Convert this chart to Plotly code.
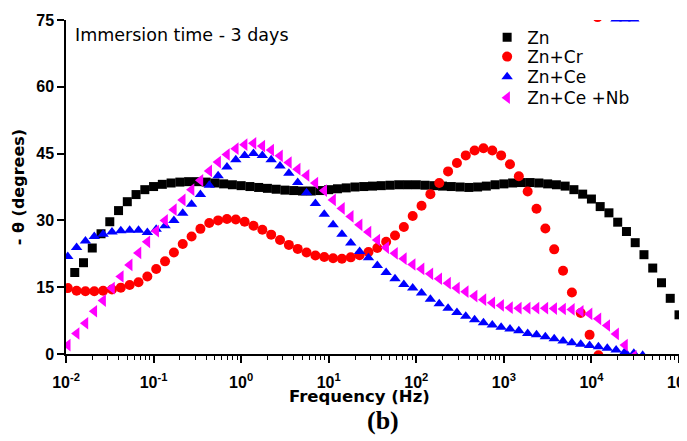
import plotly.graph_objects as go

# ---------------- data ----------------
# log10(frequency / Hz) of the Zn series
zn_logf = [-1.9, -1.8, -1.7, -1.6, -1.5, -1.4, -1.3, -1.2, -1.1, -1.0,
           -0.9, -0.8, -0.7, -0.6, -0.5, -0.4, -0.3, -0.2, -0.1, 0.0,
           0.1, 0.2, 0.3, 0.4, 0.5, 0.6, 0.7, 0.8, 0.9, 1.0,
           1.1, 1.2, 1.3, 1.4, 1.5, 1.6, 1.7, 1.8, 1.9, 2.0,
           2.1, 2.2, 2.3, 2.4, 2.5, 2.6, 2.7, 2.8, 2.9, 3.0,
           3.1, 3.2, 3.3, 3.4, 3.5, 3.6, 3.7, 3.8, 3.9, 4.0,
           4.1, 4.2, 4.3, 4.4, 4.5, 4.6, 4.7, 4.8, 4.9, 5.0]
zn_theta = [18.3, 20.5, 23.8, 27.0, 29.7, 32.2, 34.2, 35.8, 36.9, 37.6,
            38.1, 38.4, 38.6, 38.7, 38.7, 38.6, 38.4, 38.2, 38.0, 37.8,
            37.6, 37.4, 37.2, 37.0, 36.8, 36.7, 36.6, 36.6, 36.7, 36.9,
            37.1, 37.3, 37.5, 37.6, 37.7, 37.8, 37.9, 38.0, 38.0, 38.0,
            37.9, 37.8, 37.7, 37.6, 37.5, 37.4, 37.5, 37.7, 38.0, 38.2,
            38.4, 38.5, 38.5, 38.4, 38.2, 38.0, 37.7, 36.9, 35.9, 34.8,
            33.1, 31.7, 29.6, 27.5, 25.0, 22.3, 19.3, 16.0, 12.5, 8.8]

# log10(frequency / Hz) shared by the coated samples
grid_logf = [-1.98, -1.879, -1.778, -1.677, -1.576, -1.475, -1.374, -1.273, -1.172, -1.071,
             -0.97, -0.869, -0.768, -0.667, -0.566, -0.465, -0.364, -0.263, -0.162, -0.061,
             0.04, 0.141, 0.242, 0.343, 0.444, 0.545, 0.646, 0.747, 0.848, 0.949,
             1.05, 1.151, 1.252, 1.353, 1.454, 1.555, 1.656, 1.757, 1.858, 1.959,
             2.06, 2.161, 2.262, 2.363, 2.464, 2.565, 2.666, 2.767, 2.868, 2.969,
             3.07, 3.171, 3.272, 3.373, 3.474, 3.575, 3.676, 3.777, 3.878, 3.979,
             4.08, 4.181, 4.282, 4.383, 4.484, 4.585]

cr_theta = [14.8, 14.2, 14.1, 14.1, 14.2, 14.5, 14.9, 15.5, 16.1, 17.4,
            19.1, 20.8, 22.8, 24.7, 26.4, 28.1, 29.4, 30.0, 30.3, 30.2,
            29.7, 28.8, 27.9, 26.8, 25.6, 24.5, 23.6, 22.8, 22.1, 21.8,
            21.5, 21.4, 21.7, 22.2, 22.9, 23.8, 25.2, 26.6, 28.5, 31.0,
            33.3, 35.9, 38.4, 41.0, 42.9, 44.6, 45.7, 46.2, 45.7, 44.6,
            42.6, 39.9, 36.5, 32.6, 28.2, 23.5, 18.7, 13.8, 9.2, 4.3,
            -0.3]
ce_theta = [21.9, 23.9, 25.4, 26.4, 26.9, 27.4, 27.7, 27.8, 27.8, 27.3,
            28.0, 28.8, 30.0, 31.6, 33.6, 35.8, 37.9, 40.0, 42.0, 43.6,
            44.6, 45.0, 44.6, 43.6, 42.2, 40.6, 38.5, 36.2, 33.8, 31.4,
            29.0, 26.9, 24.9, 23.0, 21.6, 19.9, 18.3, 16.9, 15.6, 14.8,
            13.7, 12.3, 11.3, 10.3, 9.3, 8.5, 7.7, 7.0, 6.5, 6.0,
            5.6, 5.2, 4.6, 4.3, 3.9, 3.4, 2.9, 2.5, 2.2, 1.9,
            1.6, 1.3, 0.9, 0.5, 0.15, -0.3]
nb_theta = [2.0, 4.6, 6.9, 9.6, 12.0, 14.8, 17.4, 20.0, 22.7, 25.2,
            27.6, 30.0, 32.4, 34.6, 36.9, 39.0, 41.1, 43.1, 44.8, 46.1,
            47.0, 47.3, 46.7, 45.8, 44.5, 43.0, 41.5, 40.1, 38.4, 36.7,
            34.6, 32.7, 30.9, 29.0, 27.4, 25.6, 23.9, 22.6, 21.4, 20.1,
            19.1, 18.0, 16.9, 15.9, 14.8, 14.0, 13.0, 12.2, 11.5, 10.9,
            10.4, 10.3, 10.3, 10.3, 10.3, 10.2, 10.1, 10.0, 9.6, 9.0,
            7.9, 6.4, 4.5, 2.0, -0.5]

# stray points just above the top of the axis
cr_top_logf = [4.07]
cr_top_theta = [75.65]
ce_top_logf = [4.282, 4.383, 4.484]
ce_top_theta = [75.25, 75.25, 75.25]

series_names = ["Zn", "Zn+Cr", "Zn+Ce", "Zn+Ce +Nb"]

x_tick_exp = [-2, -1, 0, 1, 2, 3, 4, 5]
x_tick_labels = ["10<sup>-2</sup>", "10<sup>-1</sup>", "10<sup>0</sup>", "10<sup>1</sup>",
                 "10<sup>2</sup>", "10<sup>3</sup>", "10<sup>4</sup>", "10<sup>5</sup>"]
y_tick_vals = [0, 15, 30, 45, 60, 75]
y_tick_labels = ["0", "15", "30", "45", "60", "75"]

# ---------------- figure ----------------
def hz(logs):
    return [10 ** v for v in logs]

FONT = "Liberation Sans, Arial, sans-serif"
WIDE = "DejaVu Sans, Verdana, sans-serif"

fig = go.Figure()
fig.add_trace(go.Scatter(x=hz(zn_logf), y=zn_theta, mode="markers", name=series_names[0],
                         legend="legend",
                         marker=dict(symbol="square", size=9, color="#000000")))
fig.add_trace(go.Scatter(x=hz(grid_logf[:len(cr_theta)] + cr_top_logf), y=cr_theta + cr_top_theta,
                         mode="markers", name=series_names[1], legend="legend2",
                         marker=dict(symbol="circle", size=10, color="#FF0000")))
fig.add_trace(go.Scatter(x=hz(grid_logf[:len(ce_theta)] + ce_top_logf), y=ce_theta + ce_top_theta,
                         mode="markers", name=series_names[2], legend="legend3",
                         marker=dict(symbol="triangle-up", size=10, color="#0000FF")))
fig.add_trace(go.Scatter(x=hz(grid_logf[:len(nb_theta)]), y=nb_theta,
                         mode="markers", name=series_names[3], legend="legend4",
                         marker=dict(symbol="triangle-left", size=11, color="#FF00FF")))

x_ticks = [10 ** e for e in x_tick_exp]
x_minor = [m * 10 ** e for e in x_tick_exp[:-1] for m in range(2, 10)]

axis_common = dict(showgrid=False, zeroline=False, showline=True, linecolor="black",
                   linewidth=1.5, tickcolor="black", tickwidth=1.5, automargin=False)

legend_common = dict(xanchor="left", yanchor="middle", bgcolor="rgba(0,0,0,0)",
                     font=dict(size=17, family=WIDE, color="black"), x=0.687)

# the page body adds an 8 px offset, so the figure is 8 px smaller and its
# left/top margins are 8 px smaller to keep the plot where the reference has it
fig.update_layout(
    width=679, height=433,
    margin=dict(l=58, r=8, t=12, b=87, autoexpand=False),
    paper_bgcolor="white", plot_bgcolor="white",
    font=dict(family=FONT, color="black"),
    showlegend=True,
    legend=dict(y=0.947, **legend_common),
    legend2=dict(y=0.889, **legend_common),
    legend3=dict(y=0.829, **legend_common),
    legend4=dict(y=0.766, **legend_common),
    xaxis=dict(type="log", range=[-2, 5], tickmode="array", tickvals=x_ticks,
               ticktext=x_tick_labels, ticks="outside", ticklen=7, ticklabelstandoff=6,
               ticklabeloverflow="allow",
               tickfont=dict(size=16, family=FONT, weight="bold"),
               minor=dict(tickmode="array", tickvals=x_minor, ticks="outside",
                          ticklen=4, tickcolor="black", tickwidth=1.2, showgrid=False),
               **axis_common),
    yaxis=dict(range=[0, 75], tickmode="array", tickvals=y_tick_vals, ticktext=y_tick_labels,
               ticks="outside", ticklen=7,
               tickfont=dict(size=16, family=FONT, weight="bold"),
               **axis_common),
    xaxis2=dict(type="log", range=[-2, 5], overlaying="x", side="top", anchor="y",
                tickmode="array", tickvals=x_ticks, ticks="inside", ticklen=7,
                showticklabels=False,
                minor=dict(tickmode="array", tickvals=x_minor, ticks="inside",
                           ticklen=4, tickcolor="black", tickwidth=1.2, showgrid=False),
                **axis_common),
    yaxis2=dict(range=[0, 75], overlaying="y", side="right", anchor="x",
                tickmode="array", tickvals=y_tick_vals, ticks="inside", ticklen=7,
                showticklabels=False, **axis_common),
)

fig.add_annotation(text="Immersion time - 3 days", xref="paper", yref="paper",
                   x=0.0113, y=0.955, xanchor="left", yanchor="middle", showarrow=False,
                   font=dict(size=17.5, family=WIDE))
fig.add_annotation(text="Frequency (Hz)", xref="paper", yref="paper",
                   x=0.478, y=-0.128, xanchor="center", yanchor="middle", showarrow=False,
                   font=dict(size=16.5, family=WIDE, weight="bold"))
fig.add_annotation(text="- \u03b8 (degrees)", xref="paper", yref="paper",
                   x=-0.078, y=0.5, xanchor="center", yanchor="middle", showarrow=False,
                   textangle=-90, font=dict(size=16, family=WIDE, weight="bold"))
fig.add_annotation(text="(b)", xref="paper", yref="paper",
                   x=0.517, y=-0.2, xanchor="center", yanchor="middle", showarrow=False,
                   font=dict(size=26, family="Liberation Serif, Times New Roman, serif", weight="bold"))

fig.write_html("out.html")
